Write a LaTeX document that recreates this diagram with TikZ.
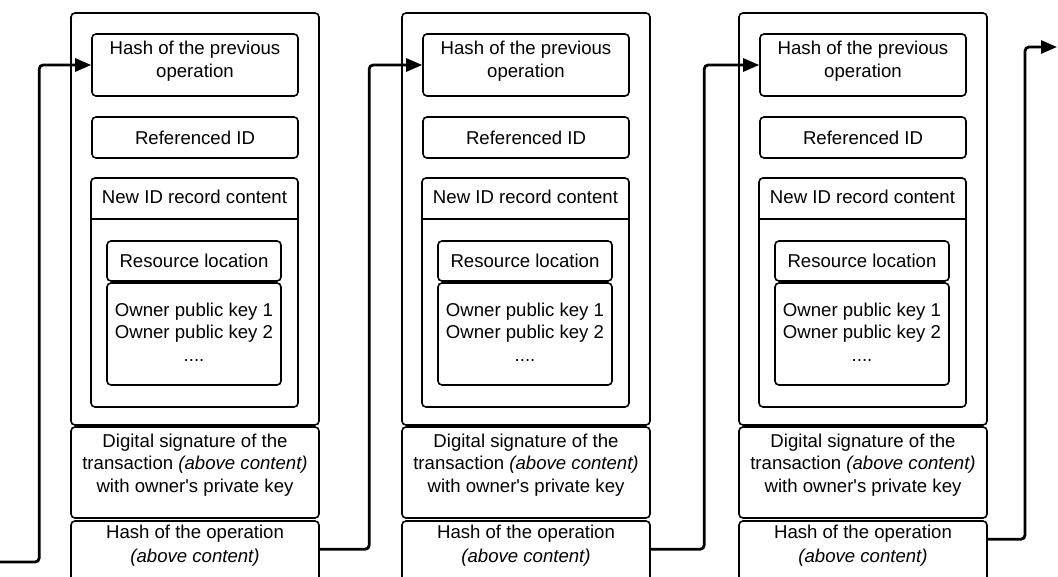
\documentclass[tikz,border=0pt]{standalone}
\usepackage{fontspec}
\setmainfont{Liberation Sans}
\usetikzlibrary{arrows.meta}
\begin{document}
\begin{tikzpicture}[x=1pt,y=-1pt,
  box/.style={draw, line width=1.6pt, rounded corners=4pt, inner sep=0pt, align=center},
  txt/.style={align=center, inner sep=0pt, font=\fontsize{18.6}{22.5}\selectfont},
  conn/.style={line width=2.8pt, rounded corners=4pt, -{Triangle[length=16pt,width=13pt]}},
  ]
\clip (0,0) rectangle (1058,577);
\fill[white] (0,0) rectangle (1058,577);
\foreach \i/\dx in {1/0, 2/331, 3/668} {
  \begin{scope}[xshift=\dx pt]
    \node[box, minimum width=248pt, minimum height=412pt] (out\i) at (195,219) {};
    \node[box, minimum width=206pt, minimum height=62pt] (hp\i) at (195,65) {};
    \node[txt] (hpt\i) at (195,61) {Hash of the previous\\operation};
    \node[box, txt, minimum width=206pt, minimum height=41pt] (rid\i) at (195,137.5) {Referenced ID};
    \node[box, minimum width=207pt, minimum height=229pt] (nid\i) at (194.5,292.5) {};
    \draw[line width=1.6pt] ([yshift=-42pt]nid\i.north west) -- ([yshift=-42pt]nid\i.north east);
    \node[txt] (nidt\i) at ([yshift=-20pt]nid\i.north) {New ID record content};
    \node[box, txt, minimum width=174pt, minimum height=40pt] (rl\i) at (194,261) {Resource location};
    \node[box, minimum width=174pt, minimum height=102pt] (ok\i) at (194,334) {};
    \node[txt] (okt\i) at (194,332) {Owner public key 1\\Owner public key 2\\....};
    \node[box, minimum width=248pt, minimum height=91pt] (sig\i) at (195,472.5) {};
    \node[txt] (sigt\i) at (195,465) {Digital signature of the\\transaction \textit{(above content)}\\with owner\textquotesingle s private key};
    \node[box, minimum width=248pt, minimum height=100pt] (ho\i) at (195,571) {};
    \node[txt, font=\fontsize{18.6}{24}\selectfont] (hot\i) at (195,546) {Hash of the operation\\\textit{(above content)}};
  \end{scope}
}
\coordinate (start) at (0,562);
\coordinate (end) at (1057,47);
\draw[conn] (start) -| ([xshift=-52pt]hp1.west) -- (hp1.west);
\draw[conn] ([yshift=-29pt]ho1.north east) -| ([xshift=-53pt]hp2.west) -- (hp2.west);
\draw[conn] ([yshift=-29pt]ho2.north east) -| ([xshift=-55pt]hp3.west) -- (hp3.west);
\draw[conn] ([yshift=-19pt]ho3.north east) -| ([xshift=-32pt]end) -- (end);
\end{tikzpicture}
\end{document}
